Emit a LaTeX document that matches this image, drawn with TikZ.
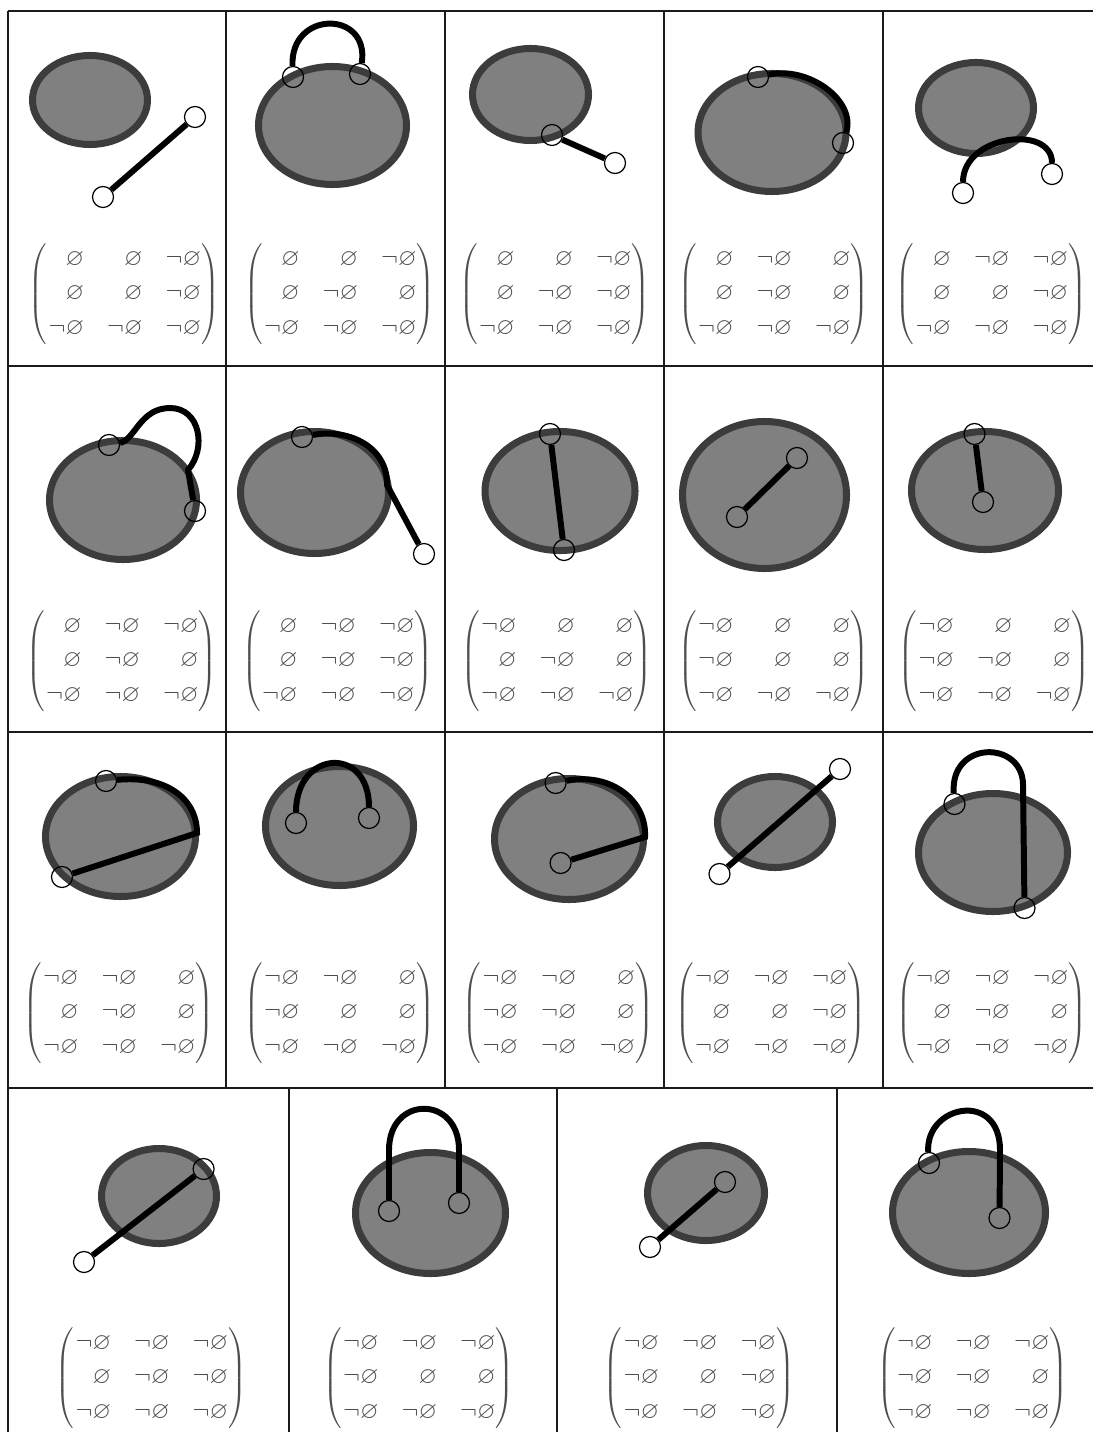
\documentclass[tikz,border=0pt]{standalone}
\usepackage{amsmath,amssymb}
\usepackage{xcolor}
\usepackage{tikz}
\usetikzlibrary{calc}
\definecolor{blobfill}{HTML}{808080}
\definecolor{blobrim}{HTML}{3C3C3C}
\definecolor{matgray}{HTML}{4E4E4E}
\definecolor{gridline}{HTML}{1A1A1A}
\newcommand{\emp}{\varnothing}
\newcommand{\nemp}{\neg\varnothing}
\newcommand{\relmat}[1]{\left(\mbox{\fontsize{13.5}{16.2}\selectfont$\begin{array}{@{\hspace{1pt}}rrr@{}}#1\end{array}$}\right)}
\renewcommand{\arraystretch}{1.22}
\setlength{\arraycolsep}{6.6pt}

\begin{document}
\begin{tikzpicture}[
    x=0.02cm, y=-0.02cm,
    cell/.style={draw=gridline, line width=1.1pt},
    blob/.style={draw=blobrim, fill=blobfill, line width=4pt},
    wire/.style={draw=black, line width=3.4pt},
    endpt/.style={circle, draw=black, line width=0.7pt, minimum size=0.42cm, inner sep=0pt},
    mtxbox/.style={inner sep=0pt, text=matgray, font=\fontsize{12}{14.4}\selectfont}
]
\useasboundingbox (0,0) rectangle (1093,1432);

% Grid
\draw[cell] (8,11) -- (1093,11);
\draw[cell] (8,366) -- (1093,366);
\draw[cell] (8,732) -- (1093,732);
\draw[cell] (8,1088) -- (1093,1088);
\draw[cell] (8,11) -- (8,1432);
\draw[cell] (226,11) -- (226,1088);
\draw[cell] (445,11) -- (445,1088);
\draw[cell] (664,11) -- (664,1088);
\draw[cell] (883,11) -- (883,1088);
\draw[cell] (289,1088) -- (289,1432);
\draw[cell] (557,1088) -- (557,1432);
\draw[cell] (837,1088) -- (837,1432);

% Row 1
\draw[blob] (90,100) ellipse (57.5 and 44.5);
\node[endpt] (a11) at (195,117) {};
\node[endpt] (b11) at (103,197) {};
\draw[wire] (a11) -- (b11);
\node[mtxbox] (m11) at (124,293) {$\relmat{\emp & \emp & \nemp\\ \emp & \emp & \nemp\\ \nemp & \nemp & \nemp}$};

\draw[blob] (332.5,125.5) ellipse (74 and 59);
\node[endpt] (a12) at (293,77) {};
\node[endpt] (b12) at (360,74) {};
\draw[wire] (a12) .. controls (290,10) and (370,10) .. (b12);
\node[mtxbox] (m12) at (339.5,293) {$\relmat{\emp & \emp & \nemp\\ \emp & \nemp & \emp\\ \nemp & \nemp & \nemp}$};

\draw[blob] (530.5,94.5) ellipse (58 and 46);
\node[endpt] (a13) at (552,135) {};
\node[endpt] (b13) at (615,163) {};
\draw[wire] (a13) -- (b13);
\node[mtxbox] (m13) at (554.5,293) {$\relmat{\emp & \emp & \nemp\\ \emp & \nemp & \nemp\\ \nemp & \nemp & \nemp}$};

\draw[blob] (772,132.5) ellipse (74 and 59);
\node[endpt] (a14) at (758,77) {};
\node[endpt] (b14) at (843,143) {};
\draw[wire] (a14) .. controls (808,66) and (856,100) .. (b14);
\node[mtxbox] (m14) at (773.5,293) {$\relmat{\emp & \nemp & \emp\\ \emp & \nemp & \emp\\ \nemp & \nemp & \nemp}$};

\draw[blob] (976,108) ellipse (57.5 and 45.5);
\node[endpt] (a15) at (963,193) {};
\node[endpt] (b15) at (1052,174) {};
\draw[wire] (a15) .. controls (963,135) and (1052,124) .. (b15);
\node[mtxbox] (m15) at (991,293) {$\relmat{\emp & \nemp & \nemp\\ \emp & \emp & \nemp\\ \nemp & \nemp & \nemp}$};

% Row 2
\draw[blob] (123,500) ellipse (73.5 and 59.5);
\node[endpt] (a21) at (109,445) {};
\node[endpt] (b21) at (195,511) {};
\draw[wire] (a21) .. controls (135,440) and (140,408) .. (170,408)
    .. controls (200,408) and (207,448) .. (188,470) -- (b21);
\node[mtxbox] (m21) at (121.5,660) {$\relmat{\emp & \nemp & \nemp\\ \emp & \nemp & \emp\\ \nemp & \nemp & \nemp}$};

\draw[blob] (314.5,492.5) ellipse (74 and 61);
\node[endpt] (a22) at (302,437) {};
\node[endpt] (b22) at (424,554) {};
\draw[wire] (a22) .. controls (350,428) and (388,448) .. (387,485) -- (b22);
\node[mtxbox] (m22) at (337.5,660) {$\relmat{\emp & \nemp & \nemp\\ \emp & \nemp & \nemp\\ \nemp & \nemp & \nemp}$};

\draw[blob] (560,491) ellipse (75 and 59.5);
\node[endpt] (a23) at (550,434) {};
\node[endpt] (b23) at (564,550) {};
\draw[wire] (a23) -- (b23);
\node[mtxbox] (m23) at (556.5,660) {$\relmat{\nemp & \emp & \emp\\ \emp & \nemp & \emp\\ \nemp & \nemp & \nemp}$};

\draw[blob] (764.5,495) ellipse (82 and 73.5);
\node[endpt] (a24) at (797,458) {};
\node[endpt] (b24) at (737,517) {};
\draw[wire] (a24) -- (b24);
\node[mtxbox] (m24) at (773.5,660) {$\relmat{\nemp & \emp & \emp\\ \nemp & \emp & \emp\\ \nemp & \nemp & \nemp}$};

\draw[blob] (985,490.5) ellipse (73.5 and 59);
\node[endpt] (a25) at (974.5,434) {};
\node[endpt] (b25) at (983,502) {};
\draw[wire] (a25) -- (b25);
\node[mtxbox] (m25) at (994,660) {$\relmat{\nemp & \emp & \emp\\ \nemp & \nemp & \emp\\ \nemp & \nemp & \nemp}$};

% Row 3
\draw[blob] (120.5,836.5) ellipse (75 and 60);
\node[endpt] (a31) at (106,781) {};
\node[endpt] (b31) at (62,877) {};
\draw[wire] (a31) .. controls (165,775) and (197,798) .. (197,833) -- (b31);
\node[mtxbox] (m31) at (118.5,1012) {$\relmat{\nemp & \nemp & \emp\\ \emp & \nemp & \emp\\ \nemp & \nemp & \nemp}$};

\draw[blob] (339.5,826) ellipse (74 and 59.5);
\node[endpt] (a32) at (296,823) {};
\node[endpt] (b32) at (369,818) {};
\draw[wire] (a32) .. controls (296,750) and (369,745) .. (b32);
\node[mtxbox] (m32) at (339.5,1012) {$\relmat{\nemp & \nemp & \emp\\ \nemp & \emp & \emp\\ \nemp & \nemp & \nemp}$};

\draw[blob] (569,839) ellipse (74.5 and 60.5);
\node[endpt] (a33) at (555.6,783) {};
\node[endpt] (b33) at (560.6,863) {};
\draw[wire] (a33) .. controls (610,772) and (647,800) .. (645,837) -- (b33);
\node[mtxbox] (m33) at (558,1012) {$\relmat{\nemp & \nemp & \emp\\ \nemp & \nemp & \emp\\ \nemp & \nemp & \nemp}$};

\draw[blob] (775,822) ellipse (57.5 and 45.5);
\node[endpt] (a34) at (840,769) {};
\node[endpt] (b34) at (719.5,874) {};
\draw[wire] (a34) -- (b34);
\node[mtxbox] (m34) at (770.5,1012) {$\relmat{\nemp & \nemp & \nemp\\ \emp & \emp & \nemp\\ \nemp & \nemp & \nemp}$};

\draw[blob] (993,852.5) ellipse (74.5 and 59);
\node[endpt] (a35) at (954.5,804) {};
\node[endpt] (b35) at (1024.5,908) {};
\draw[wire] (a35) .. controls (950,740) and (1023,740) .. (1023,785) -- (b35);
\node[mtxbox] (m35) at (991.5,1012) {$\relmat{\nemp & \nemp & \nemp\\ \emp & \nemp & \emp\\ \nemp & \nemp & \nemp}$};

% Row 4
\draw[blob] (159,1196) ellipse (57.5 and 47.5);
\node[endpt] (a41) at (203.6,1169) {};
\node[endpt] (b41) at (84,1262) {};
\draw[wire] (a41) -- (b41);
\node[mtxbox] (m41) at (151,1377) {$\relmat{\nemp & \nemp & \nemp\\ \emp & \nemp & \nemp\\ \nemp & \nemp & \nemp}$};

\draw[blob] (430.5,1213) ellipse (75 and 60.5);
\node[endpt] (a42) at (389,1211) {};
\node[endpt] (b42) at (459,1203) {};
\draw[wire] (a42) -- (389,1150) .. controls (389,1095) and (459,1095) .. (459,1150) -- (b42);
\node[mtxbox] (m42) at (418.5,1377) {$\relmat{\nemp & \nemp & \nemp\\ \nemp & \emp & \emp\\ \nemp & \nemp & \nemp}$};

\draw[blob] (706,1193) ellipse (58.5 and 47.5);
\node[endpt] (a43) at (725,1182) {};
\node[endpt] (b43) at (650,1247) {};
\draw[wire] (a43) -- (b43);
\node[mtxbox] (m43) at (699,1377) {$\relmat{\nemp & \nemp & \nemp\\ \nemp & \emp & \nemp\\ \nemp & \nemp & \nemp}$};

\draw[blob] (969,1212.5) ellipse (76.5 and 61);
\node[endpt] (a44) at (929,1163) {};
\node[endpt] (b44) at (999.5,1218) {};
\draw[wire] (a44) .. controls (925,1105) and (1000,1090) .. (1000,1150) -- (b44);
\node[mtxbox] (m44) at (972.5,1377) {$\relmat{\nemp & \nemp & \nemp\\ \nemp & \nemp & \emp\\ \nemp & \nemp & \nemp}$};
\end{tikzpicture}
\end{document}
